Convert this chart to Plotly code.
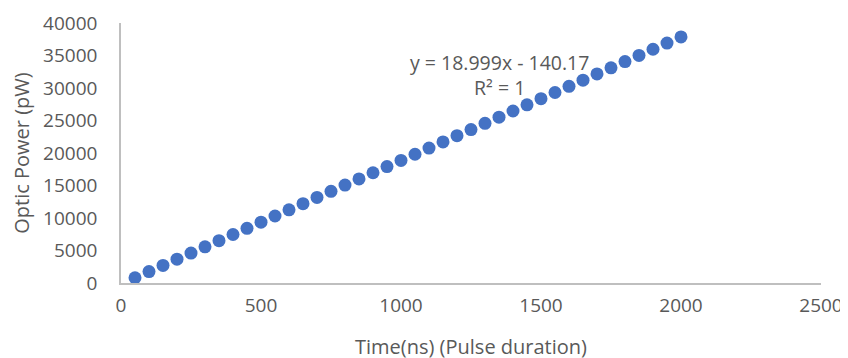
import plotly.graph_objects as go

time_ns = [50, 100, 150, 200, 250, 300, 350, 400, 450, 500,
           550, 600, 650, 700, 750, 800, 850, 900, 950, 1000,
           1050, 1100, 1150, 1200, 1250, 1300, 1350, 1400, 1450, 1500,
           1550, 1600, 1650, 1700, 1750, 1800, 1850, 1900, 1950, 2000]
power_pw = [810, 1760, 2710, 3660, 4610, 5560, 6510, 7460, 8410, 9360,
            10310, 11260, 12210, 13160, 14110, 15060, 16010, 16960, 17910, 18860,
            19810, 20760, 21710, 22660, 23610, 24560, 25510, 26460, 27410, 28360,
            29310, 30260, 31210, 32160, 33110, 34060, 35010, 35960, 36910, 37860]

eq_text = "y = 18.999x - 140.17<br>R² = 1"

FONT = "Open Sans"
TXT = "#595959"

fig = go.Figure()
fig.add_trace(go.Scatter(
    x=time_ns, y=power_pw, mode="markers",
    marker=dict(color="#4472C4", size=13, line=dict(width=0)),
    showlegend=False, cliponaxis=False,
))

fig.add_annotation(
    x=1350, y=32000, xref="x", yref="y", text=eq_text, showarrow=False,
    font=dict(family=FONT, size=19.5, color=TXT), align="center",
)

fig.update_layout(
    width=848, height=358,
    margin=dict(l=113, r=35, t=15, b=83),
    paper_bgcolor="white", plot_bgcolor="white",
    font=dict(family=FONT, color=TXT),
)
fig.update_xaxes(
    range=[0, 2500], dtick=500, tick0=0, tickformat="d",
    showgrid=False, zeroline=False, automargin=False,
    showline=True, linecolor="#BFBFBF", linewidth=1.5,
    ticks="", tickfont=dict(family=FONT, size=19, color=TXT),
    ticklabelstandoff=4,
    title=dict(text="Time(ns) (Pulse duration)", font=dict(family=FONT, size=20, color=TXT), standoff=23),
)
fig.update_yaxes(
    range=[0, 40000], dtick=5000, tick0=0, tickformat="d",
    showgrid=False, zeroline=False, automargin=False,
    showline=True, linecolor="#BFBFBF", linewidth=1.5,
    ticks="", tickfont=dict(family=FONT, size=19, color=TXT),
    ticklabelstandoff=18,
    title=dict(text="Optic Power (pW)", font=dict(family=FONT, size=20, color=TXT), standoff=8),
)

fig.write_html("out.html")
